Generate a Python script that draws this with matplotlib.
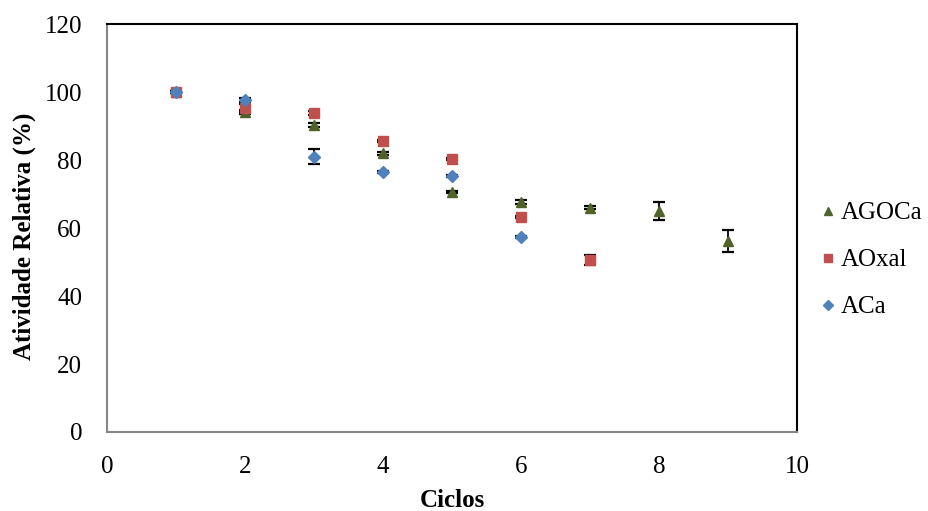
import numpy as np
import matplotlib.pyplot as plt

plt.rcParams['font.family'] = ['Liberation Serif', 'DejaVu Serif']

# data
ciclos_agoca = [1, 2, 3, 4, 5, 6, 7, 8, 9]
agoca = [100, 94.1, 90.3, 82.0, 70.6, 67.6, 66.0, 65.0, 56.2]
agoca_err = [0.4, 0.5, 0.5, 0.5, 0.4, 0.5, 0.5, 2.6, 3.2]

ciclos_aoxal = [1, 2, 3, 4, 5, 6, 7]
aoxal = [100, 95.3, 93.8, 85.6, 80.3, 63.2, 50.6]
aoxal_err = [0.4, 1.2, 0.6, 0.4, 0.4, 0.4, 1.5]

ciclos_aca = [1, 2, 3, 4, 5, 6]
aca = [100, 97.6, 80.9, 76.5, 75.3, 57.4]
aca_err = [0.4, 0.5, 2.2, 0.4, 0.4, 0.3]

fig = plt.figure(figsize=(9.29, 5.11), dpi=100)
ax = fig.add_axes([0.1152, 0.1546, 0.743, 0.7984])

common = dict(ecolor='black', elinewidth=1.3, capsize=4.3, capthick=1.6)
ax.errorbar(ciclos_agoca, agoca, yerr=agoca_err, fmt='^', color='#4F6228',
            markersize=7.5, label='AGOCa', **common)
ax.errorbar(ciclos_aoxal, aoxal, yerr=aoxal_err, fmt='s', color='#C0504D',
            markersize=7.5, label='AOxal', **common)
ax.errorbar(ciclos_aca, aca, yerr=aca_err, fmt='D', color='#4F81BD',
            markersize=6.3, label='ACa', **common)

ax.set_xlim(0, 10)
ax.set_ylim(0, 120)
ax.set_xticks(np.arange(0, 11, 2))
ax.set_yticks(np.arange(0, 121, 20))
ax.tick_params(axis='x', length=0, labelsize=18, pad=17)
ax.tick_params(axis='y', length=0, labelsize=18, pad=18)
ax.spines['left'].set_color('#868686')
ax.spines['bottom'].set_color('#868686')
for s in ax.spines.values():
    s.set_linewidth(1.5)

ax.set_xlabel('Ciclos', fontsize=18, fontweight='bold')
ax.set_ylabel('Atividade Relativa (%)', fontsize=18, fontweight='bold')
ax.xaxis.set_label_coords(0.5, -0.14)
ax.yaxis.set_label_coords(-0.103, 0.48)

handles, labels = ax.get_legend_handles_labels()
handles = [h[0] for h in handles]
fig.legend(handles, labels, loc='center left', bbox_to_anchor=(0.883, 0.491),
           frameon=False, fontsize=18, markerscale=0.75, handlelength=0.6,
           handletextpad=0.2, labelspacing=0.98, borderpad=0, borderaxespad=0)

fig.savefig('out.png', dpi=100)
